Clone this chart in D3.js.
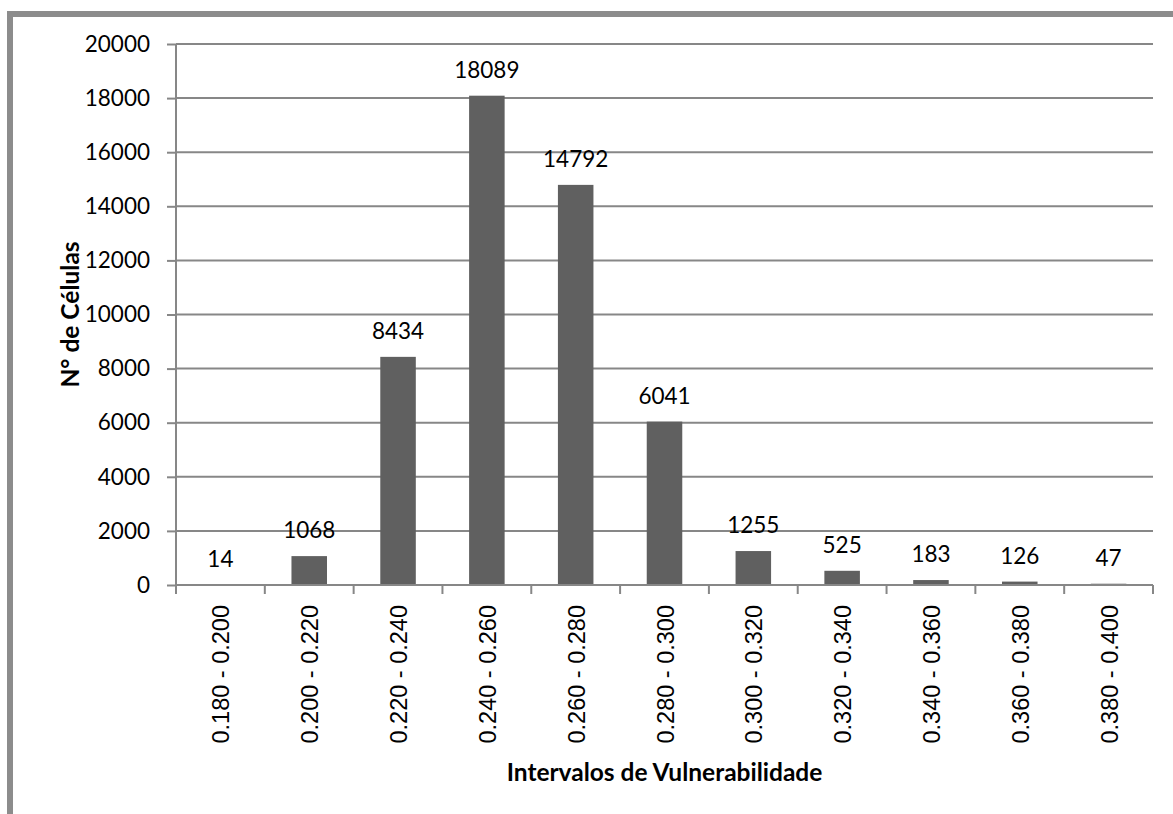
<!DOCTYPE html>
<html>
<head>
<meta charset="utf-8">
<script src="https://cdn.jsdelivr.net/npm/d3@7"></script>
<style>
  body { margin: 0; background: #fff; }
  svg { display: block; }
</style>
</head>
<body>
<script>
var categories = ["0.180 - 0.200", "0.200 - 0.220", "0.220 - 0.240", "0.240 - 0.260",
    "0.260 - 0.280", "0.280 - 0.300", "0.300 - 0.320", "0.320 - 0.340",
    "0.340 - 0.360", "0.360 - 0.380", "0.380 - 0.400"];
var counts = [14, 1068, 8434, 18089, 14792, 6041, 1255, 525, 183, 126, 47];
var yTicks = [0, 2000, 4000, 6000, 8000, 10000, 12000, 14000, 16000, 18000, 20000];

var W = 1173, H = 814;
var plotL = 176, plotR = 1153, plotT = 44, plotB = 585;

var svg = d3.select("body").append("svg")
  .attr("width", W)
  .attr("height", H);

// outer frame (only top and left edges visible)
svg.append("rect")
  .attr("x", 10).attr("y", 14)
  .attr("width", 1300).attr("height", 1000)
  .attr("fill", "none")
  .attr("stroke", "#8c8c8c")
  .attr("stroke-width", 6);

var x = d3.scaleBand().domain(categories).range([plotL, plotR]).paddingInner(0.6).paddingOuter(0.3);
var xb = d3.scaleBand().domain(categories).range([plotL, plotR]).padding(0);
var y = d3.scaleLinear().domain([0, 20000]).range([plotB, plotT]);

// gridlines
svg.append("g")
  .selectAll("line")
  .data(yTicks.slice(1))
  .enter()
  .append("line")
  .attr("x1", plotL).attr("x2", plotR)
  .attr("y1", function(d) { return y(d); })
  .attr("y2", function(d) { return y(d); })
  .attr("stroke", "#878787")
  .attr("stroke-width", 2);

// y axis
var yAxis = svg.append("g")
  .attr("transform", "translate(" + plotL + ",0)")
  .call(d3.axisLeft(y).tickValues(yTicks).tickSize(9).tickPadding(17).tickFormat(d3.format("d")));
yAxis.select(".domain").attr("stroke", "#878787").attr("stroke-width", 2)
  .attr("d", "M0," + plotT + "V" + (plotB + 9));
yAxis.selectAll(".tick line").attr("stroke", "#878787").attr("stroke-width", 2);
yAxis.selectAll("text")
  .style("font-family", "Lato, 'Open Sans', sans-serif")
  .style("font-size", "22.5px")
  .attr("fill", "#000");

// bars
svg.append("g")
  .selectAll("rect")
  .data(counts)
  .enter()
  .append("rect")
  .attr("x", function(d, i) { return x(categories[i]); })
  .attr("width", x.bandwidth())
  .attr("y", function(d) { return y(d); })
  .attr("height", function(d) { return plotB - y(d); })
  .attr("fill", "#606060");

// x axis line + boundary ticks
svg.append("line")
  .attr("x1", plotL).attr("x2", plotR)
  .attr("y1", plotB).attr("y2", plotB)
  .attr("stroke", "#878787").attr("stroke-width", 2);

var bounds = categories.map(function(c) { return xb(c); }).concat([plotR]);
svg.append("g")
  .selectAll("line")
  .data(bounds)
  .enter()
  .append("line")
  .attr("x1", function(d) { return d; })
  .attr("x2", function(d) { return d; })
  .attr("y1", plotB).attr("y2", plotB + 9)
  .attr("stroke", "#878787").attr("stroke-width", 2);

// x tick labels
svg.append("g")
  .selectAll("text")
  .data(categories)
  .enter()
  .append("text")
  .attr("transform", function(d) {
    return "translate(" + (xb(d) + xb.bandwidth() / 2 + 9) + "," + 605 + ") rotate(-90)";
  })
  .attr("text-anchor", "end")
  .style("font-family", "'Liberation Sans', Arial, sans-serif")
  .style("font-size", "23.5px")
  .text(function(d) { return d; });

// data labels
svg.append("g")
  .selectAll("text")
  .data(counts)
  .enter()
  .append("text")
  .attr("x", function(d, i) { return xb(categories[i]) + xb.bandwidth() / 2; })
  .attr("y", function(d) { return y(d) - 18; })
  .attr("text-anchor", "middle")
  .style("font-family", "Lato, 'Open Sans', sans-serif")
  .style("font-size", "22.5px")
  .text(function(d) { return d; });

// axis titles
svg.append("text")
  .attr("x", (plotL + plotR) / 2)
  .attr("y", 781)
  .attr("text-anchor", "middle")
  .style("font-family", "Lato, 'Open Sans', sans-serif")
  .style("font-weight", "bold")
  .style("font-size", "24.5px")
  .text("Intervalos de Vulnerabilidade");

svg.append("text")
  .attr("transform", "translate(79," + ((plotT + plotB) / 2) + ") rotate(-90)")
  .attr("text-anchor", "middle")
  .style("font-family", "Lato, 'Open Sans', sans-serif")
  .style("font-weight", "bold")
  .style("font-size", "24.5px")
  .text("N° de Células");
</script>
</body>
</html>
